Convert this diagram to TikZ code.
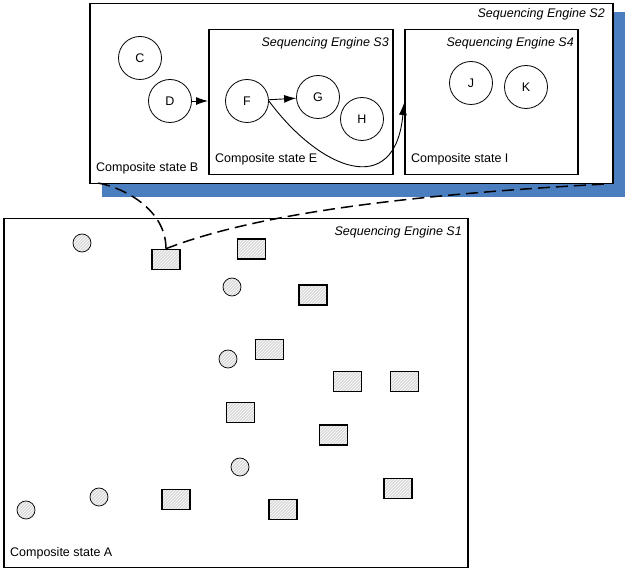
\documentclass[tikz,border=0pt]{standalone}
\usepackage{fontspec}
\setmainfont{Liberation Sans}
\usetikzlibrary{patterns,arrows.meta}
\definecolor{shadowblue}{RGB}{74,126,190}
\begin{document}
\begin{tikzpicture}[x=1pt,y=-1pt,
  font=\fontsize{12.5}{14}\selectfont,
  frame/.style={draw, line width=1.5pt, fill=white, inner sep=0, anchor=north west},
  state/.style={circle, draw, line width=0.8pt, minimum size=43pt, inner sep=0},
  hatchfill/.style={preaction={fill=gray!30}, pattern=north east lines, pattern color=white},
  tok/.style={draw, line width=1.6pt, minimum width=28pt, minimum height=20pt, inner sep=0, hatchfill},
  dotnode/.style={circle, draw, line width=0.7pt, minimum size=18pt, inner sep=0, hatchfill},
  lbl/.style={inner sep=0, anchor=west},
  eng/.style={inner sep=0, anchor=east, font=\fontsize{12.5}{14}\selectfont\itshape},
  arr/.style={line width=0.9pt, -{Latex[length=12pt,width=8pt]}},
  dashlink/.style={line width=1.5pt, dash pattern=on 12pt off 6pt}]
\useasboundingbox (0,0) rectangle (625,569);

% upper composite state
\fill[shadowblue] (102,12) rectangle (625,197);
\node[frame, minimum width=523pt, minimum height=180pt] (s2) at (89,3) {};
\node[frame, minimum width=184pt, minimum height=145pt] (s3) at (208,29) {};
\node[frame, minimum width=173pt, minimum height=145pt] (s4) at (404,29) {};

\node[eng] (s2t) at (605,14) {Sequencing Engine S2};
\node[eng] (s3t) at (389,43) {Sequencing Engine S3};
\node[eng] (s4t) at (574,43) {Sequencing Engine S4};
\node[lbl] (bt) at (96,168) {Composite state B};
\node[lbl] (et) at (215,159) {Composite state E};
\node[lbl] (it) at (411,159) {Composite state I};

\node[state] (C) at (140,58) {C};
\node[state] (D) at (170,101) {D};
\node[state] (F) at (247,101) {F};
\node[state] (G) at (318,97) {G};
\node[state] (H) at (362,119) {H};
\node[state] (J) at (471,83) {J};
\node[state] (K) at (526,87) {K};

\draw[arr] (D.east) -- (D.east -| s3.west);
\draw[arr] (F) -- (G);
\coordinate (s4in) at (s4.west |- 0,103);
\draw[arr] (F.east) .. controls (320,170) and (395,200) .. (s4in);

% lower composite state
\node[frame, minimum width=464pt, minimum height=349pt] (s1) at (3,218) {};
\node[eng] (s1t) at (462,232) {Sequencing Engine S1};
\node[lbl] (at) at (10,553) {Composite state A};

\node[dotnode] (d1) at (82,243) {};
\node[dotnode] (d2) at (232,287) {};
\node[dotnode] (d3) at (228,359) {};
\node[dotnode] (d4) at (240,467) {};
\node[dotnode] (d5) at (99,497) {};
\node[dotnode] (d6) at (26,510) {};

\node[tok] (t1) at (166,259.5) {};
\node[tok] (t2) at (251.5,249) {};
\node[tok] (t3) at (313,295) {};
\node[tok] (t4) at (269.5,349.5) {};
\node[tok] (t5) at (347.5,381.5) {};
\node[tok] (t6) at (404.5,381.5) {};
\node[tok] (t7) at (240.5,412.5) {};
\node[tok] (t8) at (333.5,435) {};
\node[tok] (t9) at (398,488.5) {};
\node[tok] (t10) at (176,499.5) {};
\node[tok] (t11) at (283,509.5) {};

% zoom links
\coordinate (l1) at (98,183);
\coordinate (l2) at (606,184);
\draw[dashlink] (t1.north) .. controls (166,210) and (125,188) .. (l1);
\draw[dashlink] (t1.north) .. controls (260,212) and (420,194) .. (l2);
\end{tikzpicture}
\end{document}
